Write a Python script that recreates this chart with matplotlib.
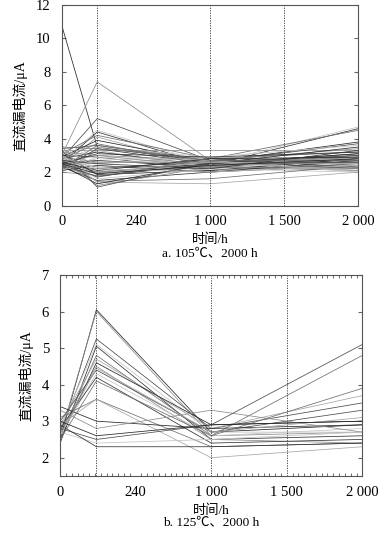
import matplotlib
matplotlib.use("Agg")
import matplotlib.pyplot as plt
import numpy as np

plt.rcParams['font.family'] = ['Liberation Serif', 'Noto Sans CJK SC']

# measurement times (h) where each sample was read
times = [0, 240, 1000, 2000]
xtick_pos = [0, 500, 1000, 1500, 2000]
xtick_labels = ['0', '240', '1 000', '1 500', '2 000']
guide_times = [240, 1000, 1500]

# leakage current (uA) for 105 C samples, one row per sample
leak_105 = [
    [10.8, 3.5, 2.6, 2.9],
    [3.0, 7.4, 2.7, 2.6],
    [2.8, 5.2, 2.7, 2.8],
    [2.6, 4.5, 2.5, 4.7],
    [2.5, 4.4, 2.4, 4.6],
    [3.1, 4.2, 2.8, 4.5],
    [2.4, 4.1, 2.3, 3.0],
    [2.9, 3.9, 2.6, 3.8],
    [3.3, 3.3, 3.3, 3.3],
    [3.4, 3.6, 2.6, 3.7],
    [2.7, 3.5, 2.9, 3.6],
    [2.2, 3.4, 2.5, 3.1],
    [3.5, 3.4, 2.8, 3.2],
    [2.0, 3.3, 2.2, 2.9],
    [2.8, 3.2, 2.4, 2.7],
    [2.6, 3.0, 2.7, 3.4],
    [3.0, 2.9, 2.1, 2.5],
    [2.3, 2.8, 2.6, 2.8],
    [2.5, 2.7, 2.3, 2.3],
    [2.9, 2.6, 2.5, 3.0],
    [3.2, 2.5, 2.9, 2.6],
    [2.1, 2.4, 2.0, 2.4],
    [2.7, 2.3, 2.4, 2.9],
    [2.4, 2.2, 2.7, 2.2],
    [3.6, 2.1, 2.2, 2.7],
    [2.6, 2.0, 2.5, 3.1],
    [2.2, 1.95, 2.3, 2.1],
    [2.8, 1.9, 2.6, 2.5],
    [3.1, 1.85, 2.1, 2.8],
    [2.0, 1.8, 2.4, 2.6],
    [2.5, 1.7, 2.8, 2.3],
    [2.9, 1.6, 2.2, 2.0],
    [2.3, 1.5, 2.0, 2.7],
    [2.6, 1.45, 1.6, 2.4],
    [3.0, 1.4, 1.3, 2.0],
    [2.4, 1.3, 2.5, 3.5],
    [2.7, 1.2, 2.3, 2.8],
    [3.3, 1.1, 2.6, 3.0],
    [2.1, 2.9, 2.7, 2.0],
    [2.5, 3.1, 2.9, 3.2],
    [2.8, 3.7, 2.4, 2.6],
    [2.3, 2.6, 2.6, 2.5],
    [2.6, 2.1, 2.8, 2.9],
    [3.2, 3.0, 2.3, 2.2],
    [2.4, 1.75, 2.5, 2.6],
    [2.9, 2.2, 2.0, 2.4],
    [2.7, 2.5, 2.2, 3.3],
    [2.2, 3.6, 2.7, 2.7],
    [3.0, 2.0, 2.6, 2.1],
    [2.5, 1.9, 2.4, 2.8],
]

# leakage current (uA) for 125 C samples
leak_125 = [
    [2.5, 6.05, 2.7, 2.9],
    [2.6, 6.0, 2.6, 2.7],
    [2.7, 5.25, 2.8, 3.5],
    [2.8, 5.1, 2.7, 2.7],
    [2.4, 5.05, 2.5, 2.6],
    [2.6, 4.8, 2.6, 4.8],
    [2.9, 4.7, 2.8, 3.7],
    [2.5, 4.6, 2.9, 3.0],
    [2.7, 4.5, 2.5, 2.4],
    [3.0, 4.4, 2.7, 3.3],
    [2.6, 4.3, 2.6, 2.8],
    [2.8, 4.2, 2.4, 2.5],
    [3.1, 3.6, 2.3, 2.4],
    [2.9, 3.6, 2.0, 2.3],
    [3.4, 3.0, 2.8, 2.9],
    [3.3, 2.8, 3.3, 2.7],
    [2.8, 2.5, 2.9, 5.1],
    [2.7, 2.4, 2.5, 2.7],
    [2.9, 2.3, 2.3, 2.4],
    [2.5, 4.1, 2.6, 3.9],
    [2.6, 4.45, 2.7, 3.1],
    [3.0, 2.6, 2.9, 3.0],
]

grays = ['#262626', '#8c8c8c', '#4d4d4d', '#c4c4c4', '#333333', '#6e6e6e', '#a6a6a6']


def draw(ax, data, ylim, yticks, xlabel, caption, minor):
    for i, row in enumerate(data):
        ax.plot(times, row, color=grays[i % len(grays)], lw=0.55)
    for t in guide_times:
        ax.axvline(t, color='#333333', ls=(0, (1.5, 1.5)), lw=0.6)
    ax.set_xlim(0, 2000)
    ax.set_ylim(*ylim)
    ax.set_yticks(yticks)
    ax.set_xticks(xtick_pos)
    ax.set_xticklabels(xtick_labels)
    ax.tick_params(axis='x', length=0, pad=7, labelsize=10.5)
    ax.tick_params(axis='y', direction='in', length=3, right=True, pad=8,
                   labelsize=10.5, color='#666666')
    if minor:
        ax.set_xticks(np.linspace(0, 2000, 53), minor=True)
        ax.tick_params(axis='x', which='minor', direction='in', length=2,
                       top=True, bottom=True, color='#555555')
    for s in ax.spines.values():
        s.set_color('#555555')
        s.set_linewidth(0.8)
    ax.set_ylabel('直流漏电流/μA', fontsize=10, labelpad=6)
    ax.set_xlabel(xlabel, fontsize=9.5, labelpad=4)
    ax.text(0.5, caption[1], caption[0], transform=ax.transAxes,
            ha='center', va='center', fontsize=9.5)


fig = plt.figure(figsize=(3.83, 5.33), dpi=100)
ax1 = fig.add_axes([0.161, 0.6144, 0.774, 0.3762])
ax2 = fig.add_axes([0.157, 0.107, 0.789, 0.377])

draw(ax1, leak_105, (0, 12), range(0, 13, 2), '时间/h', ('a. 105℃、2000 h', -0.24), False)
draw(ax2, leak_125, (1.5, 7), range(2, 8), '时间/h', ('b. 125℃、2000 h', -0.23), True)

fig.savefig('out.png', dpi=100)
